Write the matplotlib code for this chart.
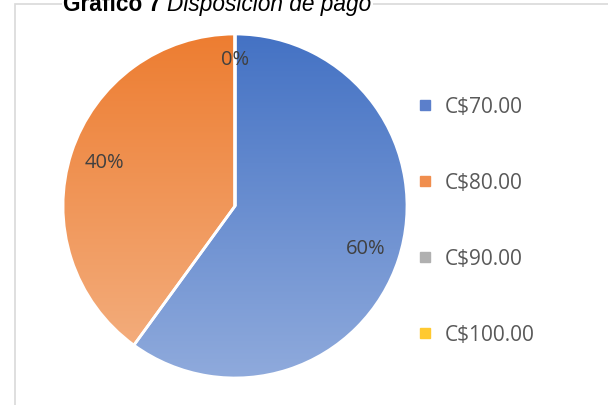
import numpy as np
import matplotlib.pyplot as plt
from matplotlib.colors import LinearSegmentedColormap
from matplotlib.lines import Line2D
from matplotlib.patches import Rectangle

categories = ["C$70.00", "C$80.00", "C$90.00", "C$100.00"]
values = [60, 40, 0, 0]
top_colors = ["#4472C4", "#ED7D31", "#A5A5A5", "#FFC000"]
bottom_colors = ["#8FAADC", "#F4B183", "#C9C9C9", "#FFD966"]
legend_colors = ["#5B7FCB", "#F08E4E", "#B0B0B0", "#FFC930"]

plt.rcParams["font.family"] = ["Liberation Sans", "DejaVu Sans"]

W, H = 608, 405
fig = plt.figure(figsize=(W / 100, H / 100), dpi=100)

# light chart-area frame (continues past right and bottom edges)
fig.patches.append(Rectangle((15 / W, -0.1), 1.2, 1 - 4 / H + 0.1,
                             transform=fig.transFigure, fill=False,
                             edgecolor="#D9D9D9", linewidth=1.2))

cx, cy, r = 235, 206, 172
lim = 1.05
half = lim * r
ax = fig.add_axes([(cx - half) / W, (H - cy - half) / H, 2 * half / W, 2 * half / H])

wedges, texts, autotexts = ax.pie(
    values, startangle=90, counterclock=False, radius=1,
    colors=top_colors, autopct="%1.0f%%", pctdistance=0.8,
    wedgeprops=dict(edgecolor="white", linewidth=2),
    textprops=dict(color="#404040", fontsize=14.5, family="Open Sans"))

grad = np.linspace(0, 1, 256).reshape(-1, 1)
for w, c0, c1 in zip(wedges, top_colors, bottom_colors):
    cmap = LinearSegmentedColormap.from_list("g", [c0, c1])
    im = ax.imshow(grad, cmap=cmap, extent=(-1, 1, -1, 1), origin="upper",
                   aspect="auto", zorder=0.5)
    im.set_clip_path(w)
    w.set_facecolor("none")
    w.set_zorder(1)

# keep only one 0% label for the empty slices
autotexts[3].set_visible(False)
autotexts[2].set_position((0, 0.85))

ax.set_xlim(-lim, lim)
ax.set_ylim(-lim, lim)
ax.set_aspect("equal")
ax.axis("off")

handles = [Line2D([], [], marker="s", linestyle="none", markersize=6.5,
                  markerfacecolor=c, markeredgecolor=c) for c in legend_colors]
fig.legend(handles, categories, loc="upper left",
           bbox_to_anchor=(396 / W, 1 - 78 / H), frameon=False,
           prop=dict(family="Open Sans", size=15), labelcolor="#595959",
           labelspacing=2.64, handletextpad=0.45, handlelength=1.0)

# title, partly cut at the top edge (white box hides the frame line)
t1 = fig.text(63 / W, 1 - 11 / H, "Gráfico 7 ", fontsize=16.3, fontweight="bold",
              color="#000000", va="baseline",
              bbox=dict(facecolor="white", edgecolor="none", pad=1))
fig.canvas.draw()
bb = t1.get_window_extent()
fig.text(bb.x1 / W, 1 - 11 / H, "Disposición de pago", fontsize=16.3,
         fontstyle="italic", color="#000000", va="baseline",
         bbox=dict(facecolor="white", edgecolor="none", pad=1))

fig.savefig("out.png", dpi=100)
